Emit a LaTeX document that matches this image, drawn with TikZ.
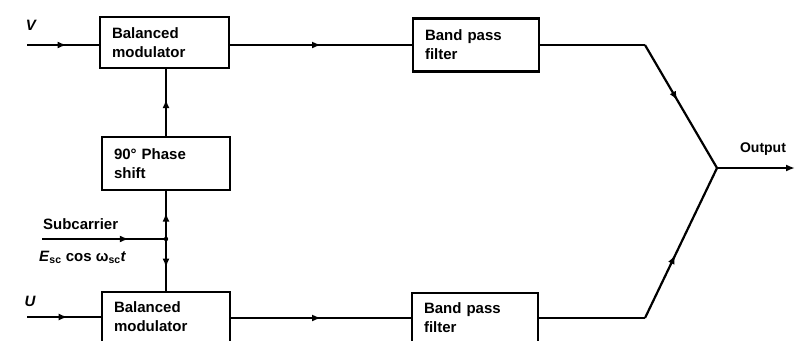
\documentclass[tikz,border=0pt]{standalone}
\usepackage{fontspec}
\setmainfont{Liberation Sans}
\usetikzlibrary{arrows.meta,decorations.markings}
\begin{document}
\begin{tikzpicture}[x=1pt,y=-1pt,
  line width=2.2pt,
  blk/.style={draw, line width=2.2pt, rectangle, align=left, inner xsep=12pt, inner ysep=0pt,
     font=\fontsize{15}{19}\selectfont\bfseries, anchor=center},
  midarrow/.style={postaction=decorate, decoration={markings,
     mark=at position #1 with {\arrow{Latex[length=9pt,width=7pt]}}}},
  lbl/.style={font=\fontsize{15}{18}\selectfont\bfseries, inner sep=0pt}
]
\useasboundingbox (0,0) rectangle (800,340);
\clip (0,0) rectangle (800,340);
\fill[white] (0,0) rectangle (800,340);

% blocks
\node[blk, minimum width=129pt, minimum height=51pt, text width=105pt] (bmV) at (164.5,42.5) {Balanced\\modulator};
\node[blk, minimum width=128pt, minimum height=53pt, text width=104pt] (ph) at (166,163.5) {90° Phase\\shift};
\node[blk, minimum width=128pt, minimum height=50pt, text width=104pt] (bmU) at (166,317) {Balanced\\modulator};
\node[blk, minimum width=126pt, minimum height=53pt, text width=102pt] (bpfV) at (476,45) {Band pass\\filter};
\node[blk, minimum width=126pt, minimum height=50pt, text width=102pt] (bpfU) at (475,318) {Band pass\\filter};

% coordinates
\coordinate (vin) at (27,45);
\coordinate (uin) at (27,317);
\coordinate (sub) at (42,239);
\coordinate (sj) at (166,239);
\coordinate (bV) at (645,45);
\coordinate (bU) at (645,318);
\coordinate (J) at (717,168);
\coordinate (out) at (795,168);

% labels
\node[lbl, font=\fontsize{15}{18}\selectfont\bfseries\itshape] (Vl) at (31,25) {V};
\node[lbl, font=\fontsize{15}{18}\selectfont\bfseries\itshape] (Ul) at (30,301) {U};
\node[lbl, anchor=west] (subl) at (42,224) {Subcarrier};
\node[lbl, anchor=west] (subf) at (38,257) {\textit{E}\textsubscript{sc} cos ω\textsubscript{sc}\textit{t}};
\node[lbl, font=\fontsize{14}{16}\selectfont\bfseries] (outl) at (763,149) {Output};

% connectors
\draw[midarrow=0.55] (vin) -- (vin -| bmV.west);
\draw[midarrow=0.55] (uin) -- (uin -| bmU.west);
\draw[midarrow=0.5] (bmV.east |- vin) -- (bpfV.west |- vin);
\draw[midarrow=0.5] (bmU.east |- bU) -- (bpfU.west |- bU);
\draw[midarrow=0.55] (ph.north) -- (ph.north |- bmV.south);
\draw[midarrow=0.7] (sub) -- (sj);
\draw[midarrow=0.55] (sj) -- (ph.south);
\draw[midarrow=0.55] (sj) -- (sj |- bmU.north);
\fill (sj) circle (2.2pt);
\draw (bpfV.east |- bV) -- (bV);
\draw[midarrow=0.45] (bV) -- (J);
\draw (bpfU.east) -- (bU);
\draw[midarrow=0.42] (bU) -- (J);
\draw[-{Latex[length=9pt,width=7pt]}] (J) -- (out);
\end{tikzpicture}
\end{document}
